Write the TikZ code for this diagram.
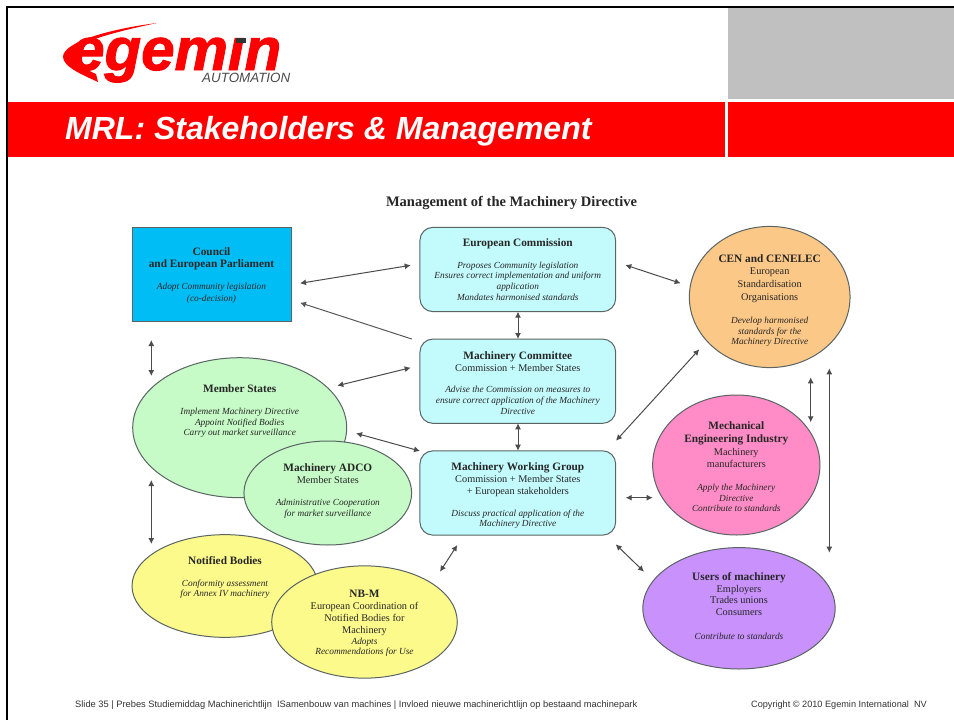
\documentclass[tikz,border=0pt]{standalone}
\usepackage{fontspec}
\setmainfont{Liberation Serif}
\newfontfamily\slidefont{Liberation Sans}
\newfontfamily\logofont{Liberation Sans}[BoldItalicFeatures={FakeBold=1.6}]
\usepackage{xcolor}
\usetikzlibrary{shapes.geometric,arrows.meta}
\definecolor{egred}{RGB}{255,0,0}
\definecolor{eggrey}{RGB}{192,192,192}
\definecolor{cyanbox}{RGB}{195,250,252}
\definecolor{bluebox}{RGB}{0,190,245}
\definecolor{greenell}{RGB}{198,250,198}
\definecolor{yellowell}{RGB}{253,250,140}
\definecolor{orangeell}{RGB}{252,200,135}
\definecolor{pinkell}{RGB}{255,140,198}
\definecolor{purpleell}{RGB}{200,145,252}
\definecolor{linegrey}{RGB}{90,100,100}
\tikzset{
	infobox/.style={draw=linegrey, line width=1pt, rounded corners=13pt, fill=cyanbox, minimum width=195.7pt, minimum height=84.3pt, inner sep=0pt, align=center, text=black!85, font=\fontsize{10.3}{11.8}\selectfont},
	infoell/.style={ellipse, draw=linegrey, line width=1pt, inner sep=0pt, align=center, text=black!85, font=\fontsize{10.3}{11.8}\selectfont},
	twoway/.style={{Latex[length=6pt,width=6pt]}-{Latex[length=6pt,width=6pt]}, draw=black!70, line width=1pt},
	oneway/.style={-{Latex[length=6pt,width=6pt]}, draw=black!65, line width=1pt},
}
\newcommand{\hd}[1]{{\bfseries\fontsize{11.3}{11.8}\selectfont #1}}
\newcommand{\nt}[1]{{\itshape\fontsize{9.3}{11}\selectfont #1}}
\begin{document}
\begin{tikzpicture}[x=1pt,y=-1pt]
	\useasboundingbox (0,0) rectangle (954,720);
	\fill[white] (0,0) rectangle (954,720);
	% slide frame and header
	\fill[black] (6,6) rectangle (954,8);
	\fill[black] (6,6) rectangle (8,720);
	\fill[eggrey] (728,8) rectangle (954,99);
	\fill[egred] (8,102) rectangle (725,157);
	\fill[egred] (728,102) rectangle (954,157);
	\node[anchor=west, text=white, inner sep=0pt, font=\slidefont\bfseries\itshape\fontsize{32}{32}\selectfont] (slidetitle) at (65,131) {MRL: Stakeholders \& Management};
	% logo
	\fill[egred] (157,23) .. controls (110,29) and (63,42) .. (63,57) .. controls (63,67) and (85,76) .. (98,82) -- (96,74) .. controls (82,68) and (75,62) .. (75,53) .. controls (75,42) and (115,32) .. (157,23) -- cycle;
	\node[anchor=base west, text=egred, inner sep=0pt, font=\logofont\bfseries\itshape\fontsize{60}{60}\selectfont] (logoname) at (71,70) {egemın};
	\fill[black!80] (236,38) rectangle (246,43);
	\node[anchor=west, text=black!70, inner sep=0pt, font=\slidefont\itshape\fontsize{13.4}{13.4}\selectfont] (logosub) at (202,78) {AUTOMATION};
	% diagram heading
	\node[inner sep=0pt, text=black!85, font=\bfseries\fontsize{14.5}{14.5}\selectfont] (heading) at (511.5,203) {Management of the Machinery Directive};
	% boxes
	\node[draw=linegrey, line width=1pt, fill=bluebox, minimum width=159pt, minimum height=93.7pt, inner sep=0pt, align=center, text=black!85, font=\fontsize{10.3}{11.8}\selectfont] (council) at (211.5,274.2)
		{\rule{0pt}{10pt}\hd{Council}\\[1pt]\hd{and European Parliament}\\[10pt]\nt{Adopt Community legislation}\\\nt{(co-decision)}};
	\node[infobox] (commission) at (517.8,269.5)
		{\hd{European Commission}\\[10pt]\nt{Proposes Community legislation}\\[-1pt]\nt{Ensures correct implementation and uniform}\\[-1pt]\nt{application}\\[-1pt]\nt{Mandates harmonised standards}};
	\node[infobox] (committee) at (517.8,381.2)
		{\rule{0pt}{12pt}\hd{Machinery Committee}\\Commission + Member States\\[9.5pt]\nt{Advise the Commission on measures to}\\[-1pt]\nt{ensure correct application of the Machinery}\\[-1pt]\nt{Directive}};
	\node[infobox] (workgroup) at (517.8,493)
		{\rule{0pt}{13.5pt}\hd{Machinery Working Group}\\Commission + Member States\\+ European stakeholders\\[10pt]\nt{Discuss practical application of the}\\[-1pt]\nt{Machinery Directive}};
	% ellipses, left side
	\node[infoell, fill=greenell, minimum width=214pt, minimum height=140pt] (member) at (239.7,427.7)
		{\hd{Member States}\\[10pt]\nt{Implement Machinery Directive}\\[-1pt]\nt{Appoint Notified Bodies}\\[-1pt]\nt{Carry out market surveillance}\\[23pt]\mbox{}};
	\node[infoell, fill=greenell, minimum width=167.7pt, minimum height=104pt] (adco) at (327.8,493)
		{\hd{Machinery ADCO}\\Member States\\[10pt]\nt{Administrative Cooperation}\\[-1pt]\nt{for market surveillance}\\[-6pt]\mbox{}};
	\node[infoell, fill=yellowell, minimum width=186pt, minimum height=102.7pt] (notified) at (225,586)
		{\hd{Notified Bodies}\\[10pt]\nt{Conformity assessment}\\[-1pt]\nt{for Annex IV machinery}\\[7pt]\mbox{}};
	\node[infoell, fill=yellowell, minimum width=185.6pt, minimum height=112.3pt] (nbm) at (364.5,622)
		{\rule{0pt}{10.5pt}\hd{NB-M}\\European Coordination of\\Notified Bodies for\\Machinery\\\nt{Adopts}\\[-2pt]\nt{Recommendations for Use}};
	% ellipses, right side
	\node[infoell, fill=orangeell, minimum width=160.7pt, minimum height=139.4pt] (cen) at (769.7,297)
		{\rule{0pt}{15pt}\hd{CEN and CENELEC}\\[1pt]European\\[1pt]Standardisation\\[1pt]Organisations\\[11pt]\nt{Develop harmonised}\\[-1pt]\nt{standards for  the}\\[-1pt]\nt{Machinery Directive}};
	\node[infoell, fill=pinkell, minimum width=167.3pt, minimum height=140pt] (mech) at (736.3,465)
		{\rule{0pt}{11.5pt}\hd{Mechanical}\\[1pt]\hd{Engineering Industry}\\[1pt]Machinery\\[1pt]manufacturers\\[10.5pt]\nt{Apply the Machinery}\\[-1pt]\nt{Directive}\\[-1pt]\nt{Contribute to standards}};
	\node[infoell, fill=purpleell, minimum width=192.3pt, minimum height=121.4pt] (users) at (739,608.3)
		{\hd{Users of machinery}\\Employers\\Trades unions\\Consumers\\[12pt]\nt{Contribute to standards}\\[-7pt]\mbox{}};
	% free ends of the arrows
	\foreach \name/\px/\py in {
		ca/300/283.3, cb/410.7/265.3, da/411.7/339, db/300/302.7, ea/151.3/340, eb/151.3/376,
		fa/337.3/385.7, fb/410.7/367.7, ga/356/433.3, gb/420/451, ha/518/311.7, hb/518/339,
		ia/518/423.3, ib/518/450.7, ja/625.3/265, jb/680.7/283.3, ka/616/440.7, kb/699.3/349.3,
		la/810.7/377.3, lb/810.7/422.3, ma/829.3/368.3, mb/829.3/552.7, na/625.7/497.7, nb/652.7/497.7,
		oa/615.7/544.3, ob/644/571.7, pa/151.3/480, pb/151.3/544, qa/440/571.7, qb/457.3/545}{
		\coordinate (\name) at (\px,\py);
	}
	% arrows
	\foreach \x/\y in {ca/cb, ea/eb, fa/fb, ga/gb, ha/hb, ia/ib, ja/jb, ka/kb, la/lb, ma/mb, na/nb, oa/ob, pa/pb, qa/qb}{
		\draw[twoway] (\x)--(\y);
	}
	\draw[oneway] (da)--(db);
	% footer
	\node[anchor=west, inner sep=0pt, text=black!80, font=\slidefont\fontsize{9.3}{9.3}\selectfont] (footleft) at (75,705) {Slide 35 | Prebes Studiemiddag Machinerichtlijn\ \ ISamenbouw van machines | Invloed nieuwe machinerichtlijn op bestaand machinepark};
	\node[anchor=west, inner sep=0pt, text=black!80, font=\slidefont\fontsize{9.15}{9.15}\selectfont] (footright) at (751,705) {Copyright © 2010 Egemin International\ \ NV};
\end{tikzpicture}
\end{document}
